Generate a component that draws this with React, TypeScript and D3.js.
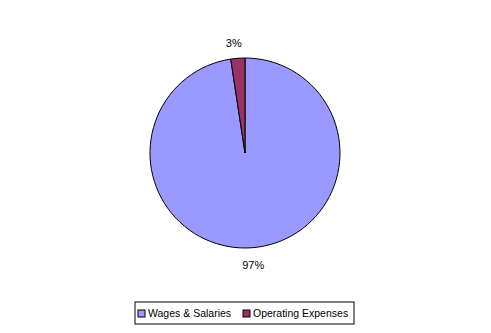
import React from "react";
import * as d3 from "d3";

const categories = ["Wages & Salaries", "Operating Expenses"];
const values = [97.6, 2.4];
const labels = ["97%", "3%"];
const colors = ["#9999ff", "#993366"];

export default function App() {
  const width = 491, height = 333;
  const cx = 245, cy = 153, r = 95;
  const pie = d3.pie<number>().sort(null).value((d) => d)(values);
  const arc = d3.arc<d3.PieArcDatum<number>>().innerRadius(0).outerRadius(r);
  const font = "Arial, 'Liberation Sans', sans-serif";
  const legendX = 135, legendY = 302, legendW = 219, legendH = 22;
  return (
    <svg width={width} height={height} style={{ position: "absolute", left: 0, top: 0 }}>
      <rect width={width} height={height} fill="#fff" />
      <g transform={`translate(${cx},${cy})`}>
        {pie.map((p, i) => (
          <path key={i} d={arc(p) || ""} fill={colors[i]} stroke="#000" strokeWidth={1} />
        ))}
        {pie.map((p, i) => {
          const a = (p.startAngle + p.endAngle) / 2;
          const lr = r + 14;
          const x = Math.sin(a) * lr - (i === 1 ? 3 : 0);
          const y = -Math.cos(a) * lr + (i === 0 ? 4 : 0);
          return (
            <text key={i} x={x} y={y} textAnchor="middle" dominantBaseline="middle"
              fontFamily={font} fontSize={11} fill="#000">{labels[i]}</text>
          );
        })}
      </g>
      <rect x={legendX} y={legendY} width={legendW} height={legendH} fill="#fff" stroke="#000" strokeWidth={1} />
      {categories.map((c, i) => {
        const xs = [legendX + 3, legendX + 108];
        return (
          <g key={c}>
            <rect x={xs[i]} y={legendY + 8} width={7} height={7} fill={colors[i]} stroke="#000" strokeWidth={1} />
            <text x={xs[i] + 10} y={legendY + 12} dominantBaseline="middle" fontFamily={font} fontSize={10.5} fill="#000">{c}</text>
          </g>
        );
      })}
    </svg>
  );
}
